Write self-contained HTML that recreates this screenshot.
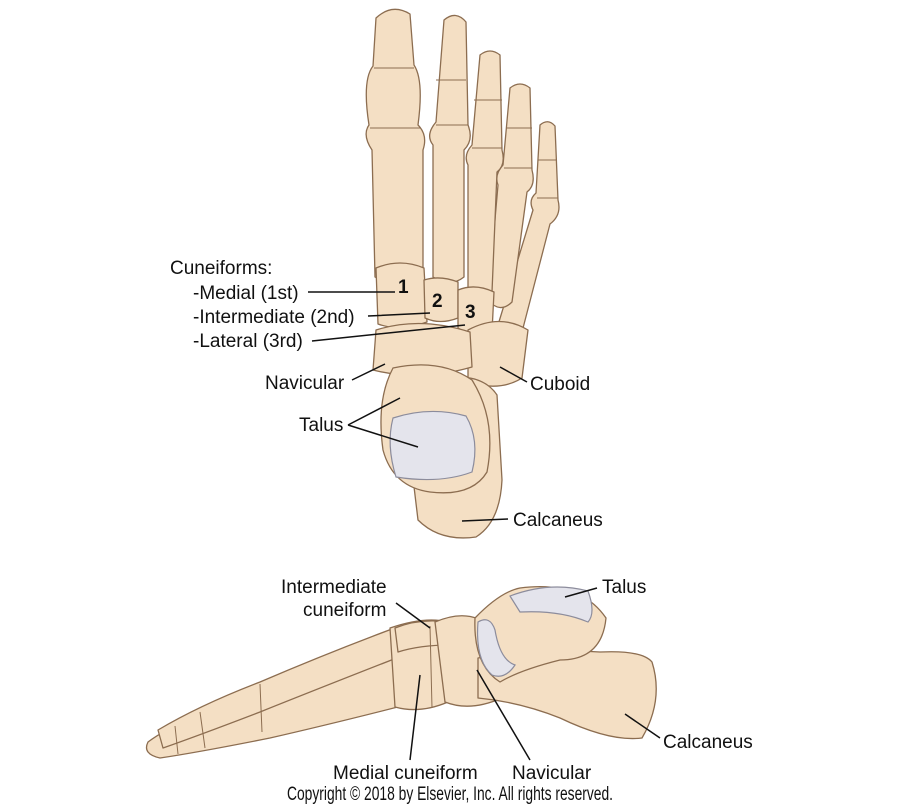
<!DOCTYPE html>
<html><head><meta charset="utf-8"><style>
html,body{margin:0;padding:0;background:#fff;}
svg{display:block}
text{font-family:"Liberation Sans",Arial,sans-serif;font-size:19px;fill:#111}
.b{fill:#f4dfc4;stroke:#8c6d50;stroke-width:1.3;stroke-linejoin:round}
.w{fill:#e4e4ec;stroke:#8c8c9c;stroke-width:1.2}
.l{stroke:#111;stroke-width:1.5;fill:none}
</style></head><body>
<svg width="900" height="807" viewBox="0 0 900 807" xmlns="http://www.w3.org/2000/svg">
<!-- TOP FOOT -->
<path class="b" d="M540 125 Q548 118 555 126 L558 200 Q562 215 550 224 L522 332 Q505 342 498 325 L533 210 Q528 200 536 193 Z"/>
<path class="b" d="M510 88 Q520 80 530 88 L532 170 Q536 185 527 192 L512 302 Q500 314 488 300 L498 185 Q494 175 503 165 Z"/>
<path class="b" d="M480 55 Q490 47 500 55 L502 150 Q506 165 497 172 L492 292 Q480 302 468 290 L468 165 Q463 155 472 145 Z"/>
<path class="b" d="M444 20 Q456 10 466 22 L468 125 Q474 140 464 150 L464 277 Q450 288 433 277 L433 145 Q425 135 436 122 Z"/>
<path class="b" d="M376 18 Q392 3 410 14 L414 65 Q424 80 418 125 Q428 135 423 150 L423 277 Q400 292 375 277 L372 150 Q362 135 369 125 Q362 80 373 66 Z"/>
<line x1="370" y1="128" x2="420" y2="128" stroke="#8c6d50"/>
<line x1="374" y1="68" x2="414" y2="68" stroke="#8c6d50"/>
<line x1="436" y1="80" x2="466" y2="80" stroke="#8c6d50"/>
<line x1="436" y1="125" x2="468" y2="125" stroke="#8c6d50"/>
<line x1="474" y1="100" x2="502" y2="100" stroke="#8c6d50"/>
<line x1="472" y1="148" x2="502" y2="148" stroke="#8c6d50"/>
<line x1="506" y1="128" x2="532" y2="128" stroke="#8c6d50"/>
<line x1="504" y1="168" x2="532" y2="168" stroke="#8c6d50"/>
<line x1="538" y1="160" x2="557" y2="160" stroke="#8c6d50"/>
<line x1="537" y1="198" x2="558" y2="198" stroke="#8c6d50"/>
<path class="b" d="M376 268 Q400 258 424 268 L427 322 Q400 332 378 324 Z"/>
<path class="b" d="M424 280 Q440 275 458 282 L458 318 Q440 325 425 318 Z"/>
<path class="b" d="M458 290 Q475 283 494 292 L492 332 Q474 339 458 328 Z"/>
<path class="b" d="M468 330 Q500 313 528 330 L522 378 Q500 392 468 382 Z"/>
<path class="b" d="M376 330 Q420 316 470 332 L472 367 Q420 382 373 370 Z"/>
<path class="b" d="M440 378 Q482 372 497 395 L502 480 Q500 522 476 537 Q440 542 418 520 L412 470 Z"/>
<path class="b" d="M393 368 Q440 358 472 380 Q497 420 487 472 Q472 497 430 492 Q393 487 383 450 Q376 400 393 368 Z"/>
<path class="w" d="M393 418 Q430 406 466 416 Q480 440 472 472 Q440 484 396 477 Q386 445 393 418 Z"/>
<text x="170" y="274">Cuneiforms:</text>
<text x="193" y="299">-Medial (1st)</text>
<text x="193" y="323">-Intermediate (2nd)</text>
<text x="193" y="347">-Lateral (3rd)</text>
<text x="398" y="293" font-weight="bold" font-size="16">1</text>
<text x="432" y="307" font-weight="bold" font-size="16">2</text>
<text x="465" y="318" font-weight="bold" font-size="16">3</text>
<text x="265" y="389">Navicular</text>
<text x="299" y="431">Talus</text>
<text x="530" y="390">Cuboid</text>
<text x="513" y="526">Calcaneus</text>
<path class="l" d="M308 292 L395 292 M368 316 L430 313 M312 341 L465 325 M352 380 L385 364 M348 425 L400 398 M348 425 L418 447 M527 382 L500 367 M508 519 L462 521"/>
<!-- BOTTOM FOOT -->
<path class="b" d="M148 742 Q180 718 250 700 Q330 670 400 652 L425 700 Q340 722 270 738 Q200 752 160 758 Q142 754 148 742 Z"/>
<path class="b" d="M158 730 Q200 705 260 682 Q330 652 400 626 L412 652 Q330 684 260 712 Q200 735 163 748 Z"/>
<path class="b" d="M390 628 Q425 616 448 622 L448 702 Q420 714 395 707 Z"/>
<path class="b" d="M395 628 Q420 618 448 622 L450 645 Q420 645 398 652 Z"/>
<path class="b" d="M435 622 Q470 607 492 628 L502 698 Q470 712 445 702 Z"/>
<path class="b" d="M478 658 Q540 648 600 652 Q642 650 652 662 Q664 700 642 738 Q610 742 560 718 Q520 702 478 698 Z"/>
<path class="b" d="M475 618 Q500 592 520 588 Q580 580 606 618 Q602 660 560 660 Q520 670 500 682 Q473 665 475 618 Z"/>
<path class="w" d="M510 596 Q550 581 588 591 Q596 613 588 622 Q560 610 520 612 Z"/>
<path class="w" d="M478 622 Q490 615 495 630 Q500 660 515 665 Q505 680 492 675 Q475 660 478 622 Z"/>
<path d="M260 684 L262 732 M200 712 L205 748 M175 726 L178 754 M430 626 L432 708" stroke="#8c6d50" fill="none"/>
<text x="281" y="593">Intermediate</text>
<text x="303" y="616">cuneiform</text>
<text x="602" y="593">Talus</text>
<text x="663" y="748">Calcaneus</text>
<text x="333" y="779">Medial cuneiform</text>
<text x="512" y="779">Navicular</text>
<path class="l" d="M396 603 L430 628 M597 588 L565 597 M660 738 L625 714 M410 760 L420 675 M530 760 L477 670"/>
<text x="287" y="800" font-size="13" textLength="326" lengthAdjust="spacingAndGlyphs">Copyright © 2018 by Elsevier, Inc. All rights reserved.</text>
</svg>
</body></html>
